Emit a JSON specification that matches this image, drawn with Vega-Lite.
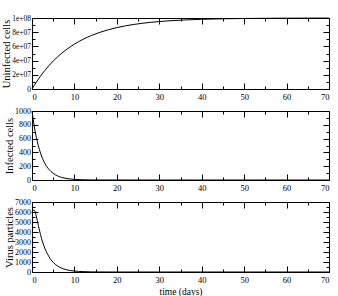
{
  "$schema": "https://vega.github.io/schema/vega-lite/v6.json",
  "padding": {"left": 0, "top": 13, "right": 0, "bottom": 0},
  "spacing": 22,
  "bounds": "flush",
  "config": {
    "font": "Liberation Serif",
    "view": {"stroke": "black", "strokeWidth": 1},
    "axis": {
      "labelFont": "Liberation Serif", "labelFontSize": 8.5, "labelColor": "black",
      "tickColor": "black", "tickWidth": 1, "domain": false, "grid": false,
      "titleFont": "Liberation Serif", "titleFontSize": 10.5, "titleFontWeight": "normal", "titleColor": "black"
    },
    "axisY": {"labelFontSize": 8, "titlePadding": 0.5},
    "line": {"color": "black", "strokeWidth": 1, "interpolate": "monotone"}
  },
  "datasets": {
    "U": [
      {"t": 0, "v": 0}, {"t": 0.5, "v": 4877058}, {"t": 1, "v": 9516258}, {"t": 2, "v": 18126925},
      {"t": 3, "v": 25918178}, {"t": 4, "v": 32967995}, {"t": 5, "v": 39346934}, {"t": 6, "v": 45118836},
      {"t": 7, "v": 50341470}, {"t": 8, "v": 55067104}, {"t": 9, "v": 59343034}, {"t": 10, "v": 63212056},
      {"t": 12, "v": 69880579}, {"t": 14, "v": 75340304}, {"t": 16, "v": 79810348}, {"t": 18, "v": 83470111},
      {"t": 20, "v": 86466472}, {"t": 22, "v": 88919684}, {"t": 24, "v": 90928205}, {"t": 26, "v": 92572642},
      {"t": 28, "v": 93918994}, {"t": 30, "v": 95021293}, {"t": 33, "v": 96311194}, {"t": 36, "v": 97267628},
      {"t": 40, "v": 98168436}, {"t": 45, "v": 98889100}, {"t": 50, "v": 99326205}, {"t": 55, "v": 99591323},
      {"t": 60, "v": 99752125}, {"t": 65, "v": 99849665}, {"t": 70, "v": 99908812}
    ],
    "I": [
      {"t": 0, "v": 1000}, {"t": 0.5, "v": 791}, {"t": 1, "v": 625}, {"t": 1.5, "v": 494}, {"t": 2, "v": 391},
      {"t": 2.5, "v": 309}, {"t": 3, "v": 244}, {"t": 3.5, "v": 193}, {"t": 4, "v": 153}, {"t": 5, "v": 95},
      {"t": 6, "v": 60}, {"t": 7, "v": 37}, {"t": 8, "v": 23}, {"t": 9, "v": 15}, {"t": 10, "v": 9},
      {"t": 12, "v": 4}, {"t": 14, "v": 1}, {"t": 17, "v": 0.3}, {"t": 20, "v": 0.1}, {"t": 30, "v": 0}, {"t": 70, "v": 0}
    ],
    "V": [
      {"t": 0, "v": 5900}, {"t": 0.25, "v": 6150}, {"t": 0.5, "v": 6200}, {"t": 0.75, "v": 6000}, {"t": 1, "v": 5600},
      {"t": 1.5, "v": 4650}, {"t": 2, "v": 3750}, {"t": 2.5, "v": 3000}, {"t": 3, "v": 2400}, {"t": 3.5, "v": 1920},
      {"t": 4, "v": 1530}, {"t": 4.5, "v": 1220}, {"t": 5, "v": 960}, {"t": 6, "v": 600}, {"t": 7, "v": 380},
      {"t": 8, "v": 240}, {"t": 9, "v": 150}, {"t": 10, "v": 95}, {"t": 11, "v": 60}, {"t": 12, "v": 38},
      {"t": 14, "v": 15}, {"t": 16, "v": 6}, {"t": 18, "v": 2}, {"t": 20, "v": 1}, {"t": 25, "v": 0}, {"t": 70, "v": 0}
    ]
  },
  "vconcat": [
    {
      "width": 297, "height": 71,
      "data": {"name": "U"},
      "layer": [
        {
          "mark": {"type": "line"},
          "encoding": {
            "x": {"field": "t", "type": "quantitative", "scale": {"domain": [0, 70], "nice": false},
              "axis": {"orient": "bottom", "values": [0,5,10,15,20,25,30,35,40,45,50,55,60,65,70],
                "labelExpr": "datum.value % 10 ? '' : datum.label",
                "tickSize": {"condition": {"test": "datum.value % 10 != 0", "value": -3}, "value": -6},
                "labelPadding": 9, "title": null}},
            "y": {"field": "v", "type": "quantitative", "scale": {"domain": [0, 100000000], "nice": false},
              "axis": {"orient": "left", "values": [0,10000000,20000000,30000000,40000000,50000000,60000000,70000000,80000000,90000000,100000000],
                "labelExpr": "datum.value % 20000000 ? '' : (datum.value == 0 ? '0' : replace(format(datum.value, '.0e'), 'e+', 'e+0'))",
                "labelFontSize": 7.5,
                "tickSize": {"condition": {"test": "datum.value % 20000000 != 0", "value": -3}, "value": -6},
                "labelPadding": 7.5, "title": "Uninfected cells", "titleFontWeight": "normal"}}
          }
        },
        {
          "mark": {"type": "line", "strokeOpacity": 0},
          "encoding": {
            "x": {"field": "t", "type": "quantitative",
              "axis": {"orient": "top", "values": [0,5,10,15,20,25,30,35,40,45,50,55,60,65,70], "labels": false,
                "tickSize": {"condition": {"test": "datum.value % 10 != 0", "value": -3}, "value": -6}, "title": null}},
            "y": {"field": "v", "type": "quantitative",
              "axis": {"orient": "right", "values": [0,10000000,20000000,30000000,40000000,50000000,60000000,70000000,80000000,90000000,100000000], "labels": false,
                "tickSize": {"condition": {"test": "datum.value % 20000000 != 0", "value": -3}, "value": -6}, "title": null}}
          }
        }
      ],
      "resolve": {"axis": {"x": "independent", "y": "independent"}}
    },
    {
      "width": 297, "height": 69,
      "data": {"name": "I"},
      "layer": [
        {
          "mark": {"type": "line"},
          "encoding": {
            "x": {"field": "t", "type": "quantitative", "scale": {"domain": [0, 70], "nice": false},
              "axis": {"orient": "bottom", "values": [0,5,10,15,20,25,30,35,40,45,50,55,60,65,70],
                "labelExpr": "datum.value % 10 ? '' : datum.label",
                "tickSize": {"condition": {"test": "datum.value % 10 != 0", "value": -3}, "value": -6},
                "labelPadding": 9, "title": null}},
            "y": {"field": "v", "type": "quantitative", "scale": {"domain": [0, 1000], "nice": false},
              "axis": {"orient": "left", "values": [0,100,200,300,400,500,600,700,800,900,1000],
                "labelExpr": "datum.value % 200 ? '' : format(datum.value, 'd')",
                "tickSize": {"condition": {"test": "datum.value % 200 != 0", "value": -3}, "value": -6},
                "labelPadding": 7.5, "title": "Infected cells", "titleFontWeight": "normal"}}
          }
        },
        {
          "mark": {"type": "line", "strokeOpacity": 0},
          "encoding": {
            "x": {"field": "t", "type": "quantitative",
              "axis": {"orient": "top", "values": [0,5,10,15,20,25,30,35,40,45,50,55,60,65,70], "labels": false,
                "tickSize": {"condition": {"test": "datum.value % 10 != 0", "value": -3}, "value": -6}, "title": null}},
            "y": {"field": "v", "type": "quantitative",
              "axis": {"orient": "right", "values": [0,100,200,300,400,500,600,700,800,900,1000], "labels": false,
                "tickSize": {"condition": {"test": "datum.value % 200 != 0", "value": -3}, "value": -6}, "title": null}}
          }
        }
      ],
      "resolve": {"axis": {"x": "independent", "y": "independent"}}
    },
    {
      "width": 297, "height": 70,
      "data": {"name": "V"},
      "layer": [
        {
          "mark": {"type": "line"},
          "encoding": {
            "x": {"field": "t", "type": "quantitative", "scale": {"domain": [0, 70], "nice": false},
              "axis": {"orient": "bottom", "values": [0,5,10,15,20,25,30,35,40,45,50,55,60,65,70],
                "labelExpr": "datum.value % 10 ? '' : datum.label",
                "tickSize": {"condition": {"test": "datum.value % 10 != 0", "value": -3}, "value": -6},
                "labelPadding": 9, "title": "time (days)", "titleFontSize": 9.5, "titleFontWeight": "normal", "titlePadding": 3}},
            "y": {"field": "v", "type": "quantitative", "scale": {"domain": [0, 7000], "nice": false},
              "axis": {"orient": "left", "values": [0,500,1000,1500,2000,2500,3000,3500,4000,4500,5000,5500,6000,6500,7000],
                "labelExpr": "datum.value % 1000 ? '' : format(datum.value, 'd')",
                "tickSize": {"condition": {"test": "datum.value % 1000 != 0", "value": -3}, "value": -6},
                "labelPadding": 7.5, "title": "Virus particles", "titleFontWeight": "normal"}}
          }
        },
        {
          "mark": {"type": "line", "strokeOpacity": 0},
          "encoding": {
            "x": {"field": "t", "type": "quantitative",
              "axis": {"orient": "top", "values": [0,5,10,15,20,25,30,35,40,45,50,55,60,65,70], "labels": false,
                "tickSize": {"condition": {"test": "datum.value % 10 != 0", "value": -3}, "value": -6}, "title": null}},
            "y": {"field": "v", "type": "quantitative",
              "axis": {"orient": "right", "values": [0,500,1000,1500,2000,2500,3000,3500,4000,4500,5000,5500,6000,6500,7000], "labels": false,
                "tickSize": {"condition": {"test": "datum.value % 1000 != 0", "value": -3}, "value": -6}, "title": null}}
          }
        }
      ],
      "resolve": {"axis": {"x": "independent", "y": "independent"}}
    }
  ]
}
